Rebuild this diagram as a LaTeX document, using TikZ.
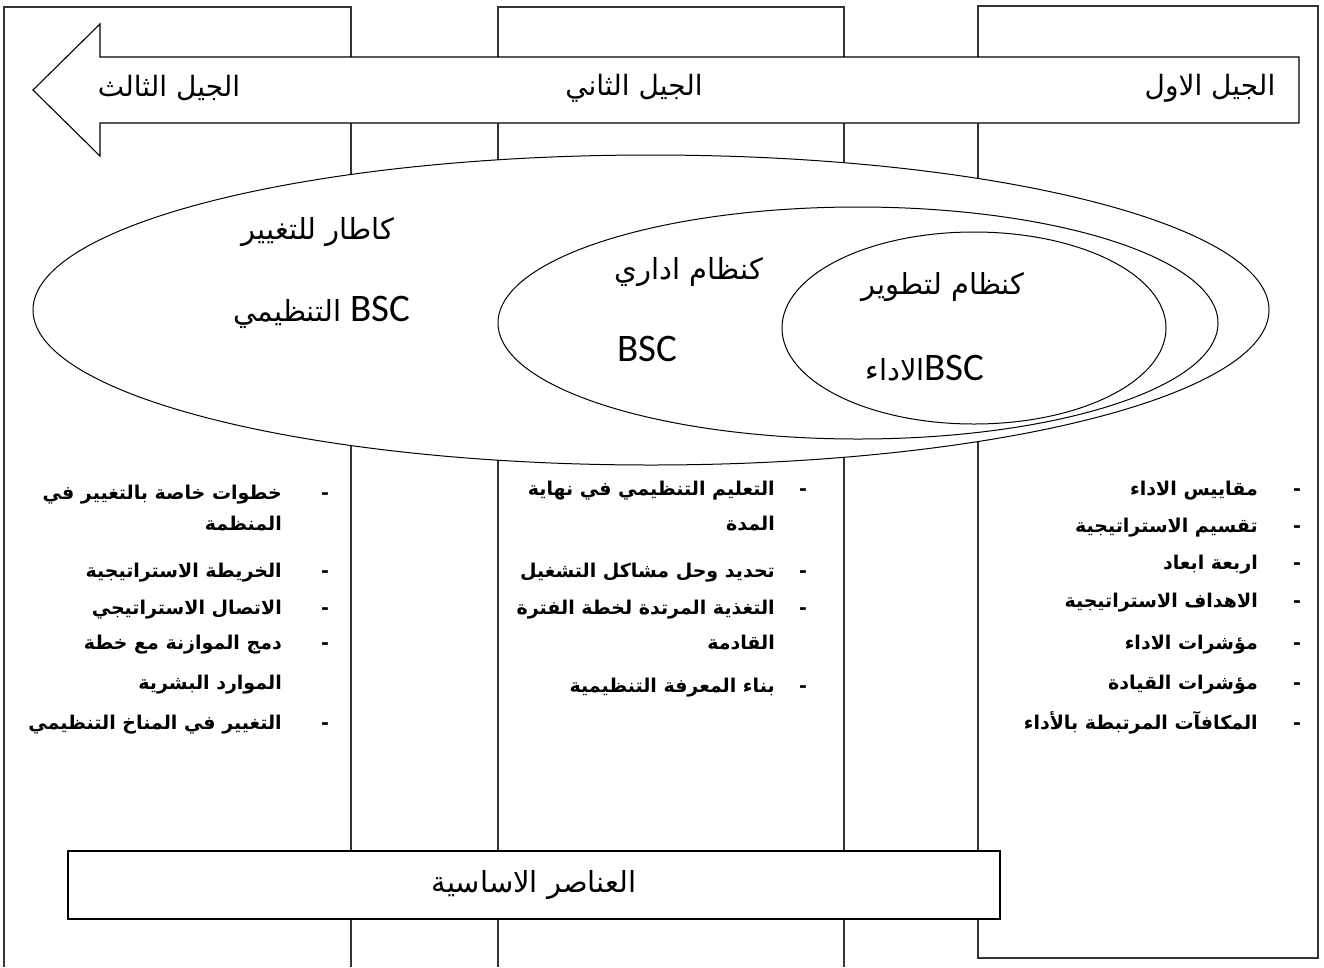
\documentclass[tikz,border=0pt]{standalone}
\usepackage{fontspec}
\usetikzlibrary{shapes.geometric}
\newfontfamily\ar[Script=Arabic]{DejaVu Sans}
\newfontfamily\lat{Carlito}
\TeXXeTstate=1
\begin{document}
\begin{tikzpicture}[x=1pt,y=-1pt,
  col/.style={draw=black!80, line width=1.2pt},
  shp/.style={draw=black, fill=white, line width=1.1pt},
  ell/.style={ellipse, draw=black, fill=white, line width=1pt, inner sep=0pt},
  arrtxt/.style={font=\ar\fontsize{28}{34}\selectfont, inner sep=0pt},
  elltxt/.style={font=\ar\fontsize{29}{35}\selectfont, inner sep=0pt},
  bsc/.style={font=\lat\fontsize{39}{46}\selectfont, inner sep=0pt},
  item/.style={font=\ar\bfseries\fontsize{19}{24}\selectfont, inner sep=0pt, anchor=east, text height=0.8em, text depth=0.3em},
  bul/.style={font=\ar\bfseries\fontsize{19}{24}\selectfont, inner sep=0pt, text height=0.8em, text depth=0.3em}
]
\useasboundingbox (0,0) rectangle (1324,967);
\fill[white] (0,0) rectangle (1324,967);
% columns
\draw[col] (4,967) -- (4,7) -- (351,7) -- (351,967);
\draw[col] (498,967) -- (498,7) -- (844,7) -- (844,967);
\draw[col] (978,6) rectangle (1318,958);
% arrow
\draw[shp] (1299,57) -- (100,57) -- (100,24) -- (33,90) -- (100,156) -- (100,123) -- (1299,123) -- cycle;
\node[arrtxt] (g3) at (169,88) {\beginR الجيل الثالث\endR};
\node[arrtxt] (g2) at (634,88) {\beginR الجيل الثاني\endR};
\node[arrtxt] (g1) at (1210,88) {\beginR الجيل الاول\endR};
% ellipses
\node[ell, minimum width=1236pt, minimum height=310pt] (outer) at (651,310) {};
\node[ell, minimum width=720pt, minimum height=232pt] (mid) at (858,323) {};
\node[ell, minimum width=384pt, minimum height=192pt] (inner) at (974,328) {};
\node[elltxt] (o1) at (318,232) {\beginR كاطار للتغيير\endR};
\node[elltxt] (o2) at (322,312) {\beginR{\lat\fontsize{39}{46}\selectfont BSC} التنظيمي\endR};
\node[elltxt] (m1) at (689,272) {\beginR كنظام اداري\endR};
\node[bsc] (m2) at (647,349) {BSC};
\node[elltxt] (i1) at (943,287) {\beginR كنظام لتطوير\endR};
\node[elltxt] (i2) at (925,368) {\beginR{\lat\fontsize{39}{46}\selectfont BSC}الاداء\endR};
% right column list
\foreach \t/\y [count=\i] in {مقاييس الاداء/493, تقسيم الاستراتيجية/530, اربعة ابعاد/567, الاهداف الاستراتيجية/605, مؤشرات الاداء/647, مؤشرات القيادة/687, المكافآت المرتبطة بالأداء/727}{
  \node[item] (r\i) at (1258,\y) {\beginR\t\endR};
  \node[bul] (rd\i) at (1297,\y) {-};
}
% middle column list
\node[item] (c1) at (775,493) {\beginR التعليم التنظيمي في نهاية\endR};
\node[item] (c2) at (775,528) {\beginR المدة\endR};
\node[item] (c3) at (775,575) {\beginR تحديد وحل مشاكل التشغيل\endR};
\node[item] (c4) at (775,612) {\beginR التغذية المرتدة لخطة الفترة\endR};
\node[item] (c5) at (775,647) {\beginR القادمة\endR};
\node[item] (c6) at (775,690) {\beginR بناء المعرفة التنظيمية\endR};
\foreach \y [count=\i] in {493,575,612,690}{
  \node[bul] (cd\i) at (803,\y) {-};
}
% left column list
\node[item] (l1) at (282,497) {\beginR خطوات خاصة بالتغيير في\endR};
\node[item] (l2) at (282,528) {\beginR المنظمة\endR};
\node[item] (l3) at (282,575) {\beginR الخريطة الاستراتيجية\endR};
\node[item] (l4) at (282,612) {\beginR الاتصال الاستراتيجي\endR};
\node[item] (l5) at (282,647) {\beginR دمج الموازنة مع خطة\endR};
\node[item] (l6) at (282,687) {\beginR الموارد البشرية\endR};
\node[item] (l7) at (282,727) {\beginR التغيير في المناخ التنظيمي\endR};
\foreach \y [count=\i] in {497,575,612,647,727}{
  \node[bul] (ld\i) at (325,\y) {-};
}
% bottom box
\node[draw=black, fill=white, line width=1.2pt, minimum width=932pt, minimum height=68pt, inner sep=0pt, font=\ar\fontsize{29}{35}\selectfont] (base) at (534,885) {\beginR العناصر الاساسية\endR};
\end{tikzpicture}
\end{document}
